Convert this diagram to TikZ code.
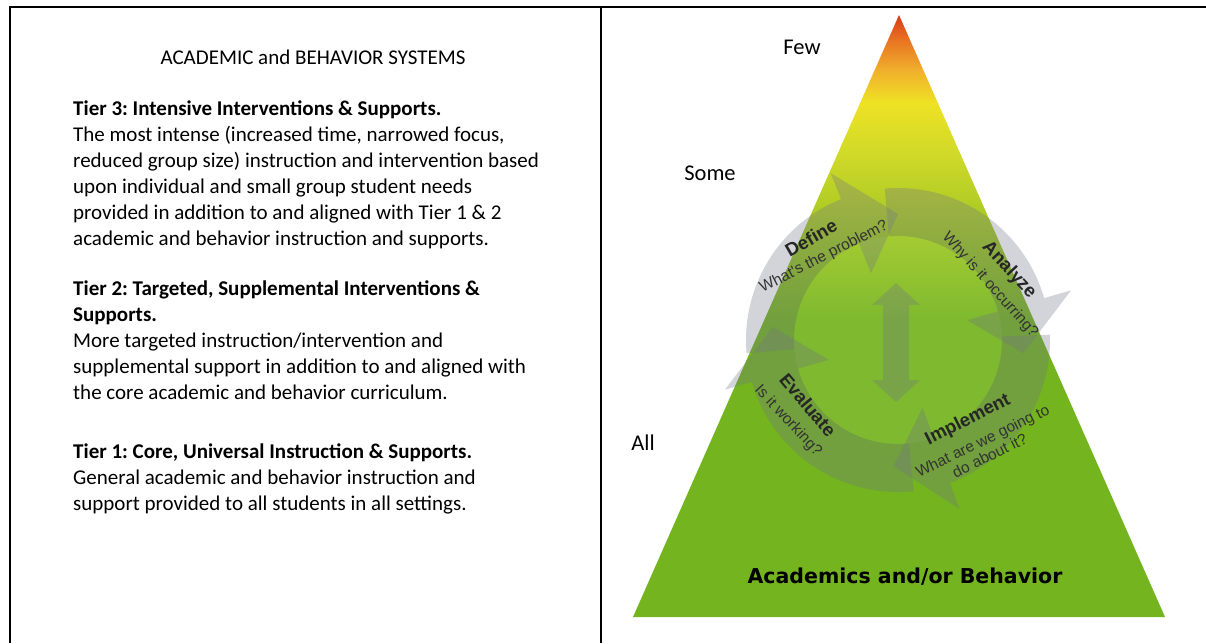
\documentclass[tikz,border=0pt]{standalone}
\usepackage{fontspec}
\setmainfont{Carlito}
\newfontfamily\arialfont{Liberation Sans}
\newfontfamily\heavyfont{DejaVu Sans}
\usetikzlibrary{calc}
\frenchspacing

\definecolor{pyrRed}{HTML}{D83A18}
\definecolor{pyrOrangeB}{HTML}{E87422}
\definecolor{pyrOrange}{HTML}{F0B02C}
\definecolor{pyrYellow}{HTML}{EEE224}
\definecolor{pyrYelGrn}{HTML}{D2DA28}
\definecolor{pyrLimeB}{HTML}{B4CE26}
\definecolor{pyrLime}{HTML}{96C420}
\definecolor{pyrGreen}{HTML}{74B41E}
\definecolor{cycleGray}{RGB}{112,116,134}

\pgfdeclareverticalshading{pyrshade}{100bp}{color(0bp)=(pyrGreen); color(25bp)=(pyrGreen); color(49.7bp)=(pyrGreen); color(55.5bp)=(pyrLime); color(59.6bp)=(pyrLimeB); color(63.8bp)=(pyrYelGrn); color(67.7bp)=(pyrYellow); color(70.4bp)=(pyrOrange); color(72.9bp)=(pyrOrangeB); color(75bp)=(pyrRed); color(100bp)=(pyrRed)}

% one curved arrow of the cycle: tail angle, angle of the head base
\newcommand{\cyclearrow}[2]{%
  \fill ($(ctr)+(#1:152)$) arc[start angle=#1, end angle=#2, radius=152]
    -- ($(ctr)+(#2:180)$) -- ($(ctr)+({#2-22}:126)$) -- ($(ctr)+(#2:72)$)
    -- ($(ctr)+(#2:104)$) arc[start angle=#2, end angle=#1, radius=104] -- cycle;}

\tikzset{
  frame/.style={line width=2pt, black},
  bodytext/.style={font=\fontsize{21}{26}\selectfont, inner sep=0pt},
  tierblock/.style={bodytext, anchor=north west, align=left},
  levellabel/.style={font=\fontsize{22.5}{26}\selectfont, inner sep=0pt},
  steplabel/.style={font=\arialfont\bfseries\fontsize{18.5}{20}\selectfont, text=black!85, inner sep=0pt},
  stepquestion/.style={font=\arialfont\fontsize{15.5}{16.5}\selectfont, text=black!80, inner sep=0pt, align=center},
}

\begin{document}
\begin{tikzpicture}[x=1pt, y=1pt]
    \useasboundingbox (0,0) rectangle (1206,-643);
    % frame of the two columns
    \draw[frame] (10,-643) -- (10,-7) -- (1206,-7);
    \draw[frame] (601,-7) -- (601,-643);

    % left column
    \node[bodytext] (title) at (313,-57) {ACADEMIC and BEHAVIOR SYSTEMS};
    \node[tierblock] (tier3) at (73,-96.8) {\strut\textbf{Tier 3: Intensive Interventions \& Supports.}\\
        The most intense (increased time, narrowed focus,\\
        reduced group size) instruction and intervention based\\
        upon individual and small group student needs\\
        provided in addition to and aligned with Tier 1 \& 2\\
        academic and behavior instruction and supports.};
    \node[tierblock] (tier2) at (73,-276.8) {\strut\textbf{Tier 2: Targeted, Supplemental Interventions \&}\\
        \textbf{Supports.}\\
        More targeted instruction/intervention and\\
        supplemental support in addition to and aligned with\\
        the core academic and behavior curriculum.};
    \node[tierblock] (tier1) at (73,-439.8) {\strut\textbf{Tier 1: Core, Universal Instruction \& Supports.}\\
        General academic and behavior instruction and\\
        support provided to all students in all settings.};

    % pyramid
    \coordinate (apex) at (899,-15);
    \coordinate (bl) at (633,-617);
    \coordinate (br) at (1165,-617);
    \shade[shading=pyrshade] (apex) -- (bl) -- (br) -- cycle;

    \node[levellabel] (few) at (802,-47) {Few};
    \node[levellabel] (some) at (710,-173) {Some};
    \node[levellabel] (all) at (643,-443) {All};
    \node[font=\heavyfont\bfseries\fontsize{20.5}{22}\selectfont, inner sep=0pt] (base) at (905,-577) {Academics and/or Behavior};

    % problem solving cycle
    \coordinate (ctr) at (898,-340);
    \fill[white, opacity=0.08] (ctr) circle (104);
    \begin{scope}[fill=cycleGray, fill opacity=0.31]
        \cyclearrow{185}{112}
        \cyclearrow{95}{16}
        \cyclearrow{2}{-70}
        \cyclearrow{-84}{-164}
        \fill (896,-283) -- (920,-305) -- (909,-305) -- (909,-380) -- (920,-380) -- (896,-402)
            -- (872,-380) -- (883,-380) -- (883,-305) -- (872,-305) -- cycle;
    \end{scope}

    \node[steplabel, rotate=30] (define) at (811,-238) {Define};
    \node[stepquestion, rotate=27] (defineq) at (824,-257) {What's the problem?};
    \node[steplabel, rotate=-47] (analyze) at (1009,-270) {Analyze};
    \node[stepquestion, rotate=-48] (analyzeq) at (990,-285) {Why is it occurring?};
    \node[steplabel, rotate=27] (implement) at (968,-420) {Implement};
    \node[stepquestion, rotate=26] (implementq) at (986,-448) {What are we going to\\do about it?};
    \node[steplabel, rotate=-50] (evaluate) at (808,-405) {Evaluate};
    \node[stepquestion, rotate=-47] (evaluateq) at (788,-421) {Is it working?};
\end{tikzpicture}
\end{document}
